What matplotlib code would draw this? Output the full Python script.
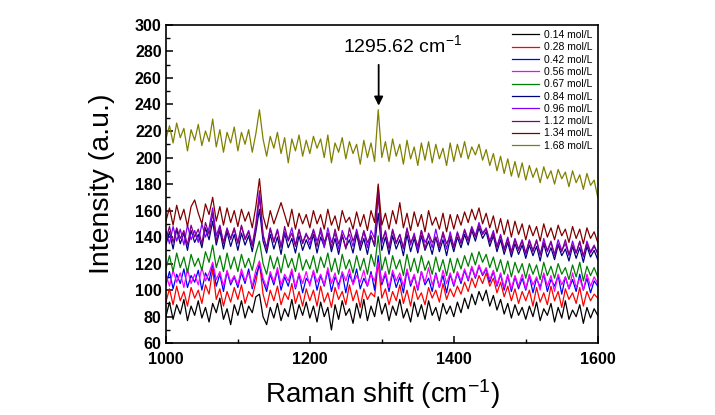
import numpy as np
import matplotlib
matplotlib.use("Agg")
import matplotlib.pyplot as plt
from matplotlib.ticker import MultipleLocator

plt.rcParams['font.family'] = ['Liberation Sans', 'DejaVu Sans']
plt.rcParams['mathtext.fontset'] = 'custom'
plt.rcParams['mathtext.rm'] = 'Liberation Sans'
plt.rcParams['mathtext.it'] = 'Liberation Sans:italic'
plt.rcParams['mathtext.bf'] = 'Liberation Sans:bold'

# Raman shift grid (cm-1), one sample every 5 cm-1
raman_shift = np.arange(1000, 1601, 5)

labels = ['0.14 mol/L', '0.28 mol/L', '0.42 mol/L', '0.56 mol/L', '0.67 mol/L',
          '0.84 mol/L', '0.96 mol/L', '1.12 mol/L', '1.34 mol/L', '1.68 mol/L']
colors = ['#000000', '#ff0000', '#0000ff', '#ff00ff', '#008000',
          '#000080', '#8000ff', '#800080', '#800000', '#808000']

c014 = [80, 91, 78, 89, 82, 93, 77, 88, 81, 92, 79, 87, 76, 90, 83, 94, 78, 86, 74, 89,
        81, 92, 79, 88, 83, 95, 97, 80, 74, 87, 79, 90, 77, 86, 80, 93, 78, 89, 81, 91,
        79, 88, 76, 91, 80, 87, 70, 89, 78, 92, 81, 86, 75, 90, 79, 93, 77, 88, 80, 95,
        82, 90, 77, 88, 81, 93, 79, 86, 76, 91, 80, 89, 78, 92, 81, 87, 77, 90, 82, 88,
        80, 91, 83, 94, 86, 97, 89, 99, 92, 100, 88, 96, 85, 93, 82, 90, 79, 89, 81, 87,
        78, 88, 80, 91, 77, 86, 81, 90, 76, 87, 79, 92, 78, 85, 80, 89, 75, 87, 79, 86,
        81]
c028 = [91, 101, 89, 103, 92, 99, 88, 102, 94, 100, 90, 104, 97, 116, 93, 101, 88, 99, 91, 102,
        93, 104, 90, 99, 95, 106, 121, 97, 87, 100, 92, 103, 89, 98, 93, 105, 90, 99, 88, 101,
        92, 100, 88, 103, 91, 98, 87, 102, 93, 99, 89, 104, 92, 100, 87, 101, 93, 98, 95, 121,
        94, 101, 89, 99, 92, 104, 90, 100, 88, 103, 93, 98, 89, 102, 94, 100, 91, 105, 93, 101,
        95, 103, 97, 106, 99, 109, 102, 111, 105, 113, 103, 109, 98, 106, 95, 103, 92, 101, 90, 99,
        92, 100, 88, 102, 91, 98, 89, 103, 92, 99, 87, 101, 93, 98, 90, 102, 88, 99, 92, 97,
        94]
c042 = [104, 114, 101, 112, 105, 116, 102, 111, 106, 115, 100, 113, 107, 120, 103, 112, 99, 114, 104, 110,
        102, 113, 105, 116, 101, 111, 119, 107, 99, 112, 104, 115, 100, 110, 103, 114, 101, 112, 98, 109,
        105, 114, 100, 111, 103, 115, 99, 110, 104, 113, 98, 112, 105, 116, 101, 109, 103, 114, 100, 126,
        104, 112, 99, 113, 102, 110, 98, 115, 103, 111, 100, 114, 104, 109, 99, 113, 102, 111, 98, 112,
        103, 113, 105, 115, 107, 117, 109, 118, 111, 116, 106, 114, 103, 112, 100, 111, 99, 110, 101, 109,
        100, 111, 98, 109, 102, 112, 99, 108, 103, 111, 97, 110, 101, 108, 99, 112, 100, 109, 98, 107,
        103]
c056 = [112, 103, 115, 106, 113, 102, 116, 105, 112, 104, 117, 107, 113, 121, 108, 114, 103, 115, 106, 111,
        104, 116, 107, 113, 103, 115, 122, 109, 102, 114, 106, 117, 104, 112, 107, 116, 102, 113, 105, 114,
        103, 115, 106, 112, 104, 117, 105, 113, 101, 114, 107, 116, 104, 111, 106, 115, 103, 112, 107, 121,
        106, 114, 102, 115, 107, 113, 103, 116, 105, 112, 101, 114, 106, 117, 104, 112, 102, 115, 105, 113,
        104, 114, 107, 116, 108, 118, 110, 119, 112, 117, 108, 115, 104, 113, 102, 112, 101, 111, 103, 112,
        101, 112, 104, 110, 100, 113, 103, 111, 99, 112, 104, 110, 101, 113, 102, 109, 100, 112, 103, 110,
        105]
c067 = [116, 126, 114, 128, 117, 125, 113, 127, 118, 124, 115, 129, 121, 134, 117, 126, 114, 128, 116, 125,
        114, 127, 117, 124, 115, 128, 137, 120, 112, 126, 116, 125, 113, 127, 117, 124, 114, 128, 115, 123,
        116, 126, 113, 125, 117, 128, 114, 124, 112, 127, 116, 123, 113, 126, 115, 124, 112, 127, 118, 141,
        115, 125, 112, 126, 116, 123, 111, 127, 114, 124, 113, 126, 115, 122, 112, 125, 114, 123, 111, 124,
        113, 124, 116, 126, 118, 128, 119, 129, 121, 127, 117, 125, 114, 123, 112, 122, 110, 121, 113, 120,
        109, 120, 112, 119, 108, 121, 111, 118, 109, 120, 112, 117, 108, 119, 110, 121, 107, 118, 111, 117,
        110]
c084 = [134, 144, 131, 146, 135, 143, 130, 145, 136, 142, 132, 147, 138, 152, 134, 145, 131, 144, 133, 142,
        130, 143, 134, 141, 129, 144, 161, 137, 128, 142, 131, 140, 127, 143, 132, 139, 128, 141, 130, 138,
        131, 142, 128, 140, 133, 143, 129, 139, 127, 141, 132, 138, 128, 142, 130, 139, 127, 141, 133, 158,
        130, 140, 127, 141, 131, 138, 126, 142, 129, 139, 128, 141, 130, 137, 127, 140, 129, 138, 126, 139,
        129, 140, 132, 142, 134, 145, 137, 147, 139, 144, 133, 141, 129, 138, 127, 136, 125, 135, 127, 134,
        124, 134, 126, 133, 122, 135, 125, 132, 123, 134, 126, 131, 122, 133, 124, 132, 121, 133, 125, 130,
        123]
c096 = [145, 135, 148, 137, 146, 134, 149, 138, 145, 136, 150, 140, 147, 162, 141, 149, 136, 147, 138, 146,
        136, 148, 139, 145, 134, 150, 175, 142, 132, 147, 137, 146, 133, 144, 138, 147, 134, 145, 136, 143,
        134, 146, 137, 144, 132, 147, 136, 143, 131, 145, 138, 142, 133, 146, 135, 144, 132, 145, 139, 178,
        135, 145, 132, 146, 136, 142, 131, 147, 134, 143, 130, 145, 136, 141, 132, 146, 134, 142, 131, 144,
        133, 144, 136, 146, 138, 148, 141, 151, 143, 147, 137, 145, 133, 142, 131, 140, 129, 139, 131, 138,
        127, 138, 130, 137, 126, 139, 129, 136, 127, 138, 130, 135, 126, 137, 128, 136, 125, 137, 129, 134,
        127]
c112 = [138, 148, 136, 147, 139, 145, 134, 149, 140, 146, 135, 151, 142, 158, 137, 148, 135, 146, 139, 147,
        135, 149, 138, 144, 133, 147, 170, 141, 131, 146, 136, 145, 132, 148, 137, 143, 133, 146, 135, 142,
        138, 145, 133, 147, 136, 143, 132, 146, 135, 142, 131, 147, 137, 144, 133, 145, 136, 141, 134, 172,
        137, 144, 131, 145, 135, 142, 132, 146, 136, 141, 133, 145, 131, 143, 136, 140, 132, 144, 135, 141,
        132, 143, 135, 145, 137, 147, 140, 149, 142, 146, 136, 143, 132, 141, 130, 139, 128, 138, 130, 137,
        128, 137, 129, 138, 127, 136, 130, 137, 126, 135, 129, 138, 127, 134, 128, 137, 126, 135, 128, 133,
        128]
c134 = [152, 162, 149, 164, 153, 161, 148, 163, 168, 158, 150, 165, 157, 170, 152, 163, 149, 162, 151, 160,
        148, 161, 152, 159, 147, 163, 184, 156, 146, 160, 150, 158, 166, 157, 148, 161, 146, 158, 150, 157,
        147, 160, 150, 157, 146, 161, 149, 156, 145, 160, 151, 155, 146, 159, 148, 157, 145, 160, 151, 180,
        149, 158, 146, 160, 150, 166, 147, 158, 145, 159, 148, 157, 144, 160, 149, 155, 146, 158, 144, 157,
        146, 157, 149, 159, 151, 161, 153, 162, 150, 158, 147, 156, 143, 154, 142, 153, 140, 152, 142, 150,
        138, 149, 141, 148, 137, 150, 140, 147, 138, 149, 141, 146, 136, 148, 139, 146, 135, 147, 139, 144,
        136]
c168 = [214, 224, 211, 226, 215, 222, 205, 221, 213, 225, 209, 220, 212, 229, 208, 221, 204, 219, 211, 223,
        205, 219, 210, 221, 204, 218, 236, 214, 201, 216, 207, 219, 203, 215, 196, 214, 205, 217, 201, 213,
        203, 216, 207, 214, 200, 217, 196, 211, 204, 215, 199, 212, 203, 210, 195, 213, 200, 211, 197, 236,
        200, 212, 197, 214, 201, 210, 195, 213, 199, 208, 194, 211, 198, 212, 196, 210, 199, 207, 194, 211,
        197, 210, 200, 212, 199, 208, 202, 210, 198, 206, 194, 203, 190, 201, 188, 199, 186, 197, 185, 196,
        183, 194, 185, 192, 181, 193, 184, 190, 180, 191, 184, 189, 178, 190, 181, 187, 176, 188, 179, 183,
        170]

series = [c014, c028, c042, c056, c067, c084, c096, c112, c134, c168]

peak_position = 1295.62
peak_label = '1295.62 cm$^{-1}$'

fig = plt.figure(figsize=(7.15, 4.15), dpi=100)
ax = fig.add_axes([0.232, 0.173, 0.604, 0.767])

for vals, lab, col in zip(series, labels, colors):
    ax.plot(raman_shift, vals, color=col, lw=0.9, label=lab)

ax.set_xlim(1000, 1600)
ax.set_ylim(60, 300)
ax.xaxis.set_major_locator(MultipleLocator(200))
ax.xaxis.set_minor_locator(MultipleLocator(100))
ax.yaxis.set_major_locator(MultipleLocator(20))
ax.yaxis.set_minor_locator(MultipleLocator(10))
ax.tick_params(which='both', direction='in', top=False, right=False)
ax.tick_params(which='major', length=5, width=1.1, labelsize=11.5)
ax.tick_params(axis='x', which='major', pad=6)
ax.tick_params(axis='y', which='major', pad=3)
ax.tick_params(which='minor', length=3, width=1.0)
for t in ax.get_xticklabels() + ax.get_yticklabels():
    t.set_fontweight('bold')
for s in ax.spines.values():
    s.set_linewidth(1.2)

ax.set_xlabel('Raman shift (cm$^{-1}$)', fontsize=20)
ax.set_ylabel('Intensity (a.u.)', fontsize=20.5)
ax.xaxis.set_label_coords(0.502, -0.108)
ax.yaxis.set_label_coords(-0.118, 0.5)

ax.annotate('', xy=(peak_position, 237), xytext=(peak_position, 272),
            arrowprops=dict(arrowstyle='-|>', color='black', lw=1.3, mutation_scale=13))
ax.text(1328, 285, peak_label, fontsize=14, ha='center', va='center')

leg = ax.legend(loc='upper right', frameon=False, fontsize=7.5, handlelength=2.6,
                labelspacing=0.22, borderaxespad=0.1, handletextpad=0.5)

fig.savefig('out.png', dpi=100, facecolor='white')
